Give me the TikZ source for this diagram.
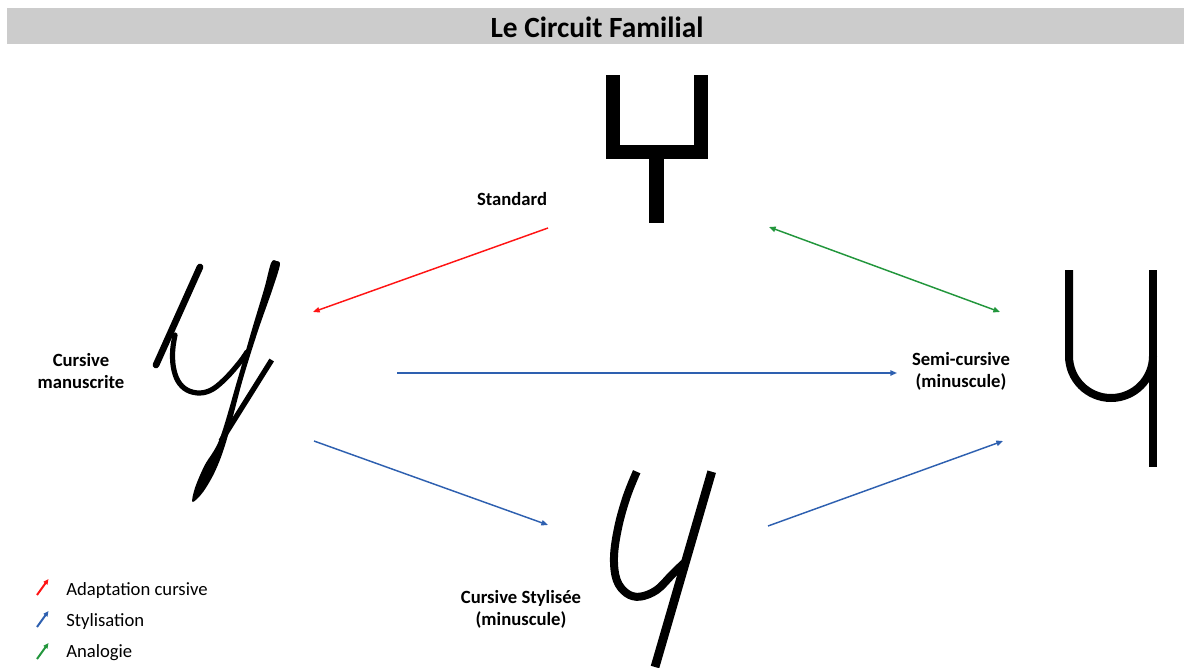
\documentclass[tikz,border=0pt]{standalone}
\usepackage{fontspec}
\setmainfont{Carlito}
\usetikzlibrary{arrows.meta}
\definecolor{arrred}{RGB}{255,20,20}
\definecolor{arrblue}{RGB}{46,96,176}
\definecolor{arrgreen}{RGB}{34,150,60}
\definecolor{titlegray}{RGB}{204,204,204}
\tikzset{
  lbl/.style={font=\bfseries\fontsize{14}{16.5}\selectfont, align=center, inner sep=0pt},
  legtxt/.style={font=\fontsize{14}{16.5}\selectfont, anchor=base west, inner sep=0pt},
  conn/.style={line width=1.1pt, -{Triangle[length=5pt,width=4pt]}},
  bicon/.style={line width=1.1pt, {Triangle[length=5pt,width=4pt]}-{Triangle[length=5pt,width=4pt]}},
  legarrow/.style={line width=1.5pt, -{Triangle[length=4pt,width=3.5pt]}},
  glyph/.style={line width=6pt, line cap=butt},
}
\begin{document}
\begin{tikzpicture}[x=0.75pt,y=-0.75pt]
\useasboundingbox (0,0) rectangle (1184,667);
% title bar
\fill[titlegray] (7,8) rectangle (1184,44);
\node[font=\bfseries\fontsize{22}{26}\selectfont, inner sep=0pt] (title) at (597,27) {Le Circuit Familial};

% ---- Standard glyph
\fill (605.7,75) rectangle (620.3,159);
\fill (694.3,75) rectangle (708.3,159);
\fill (605.7,145) rectangle (708.3,159);
\fill (649.3,159) rectangle (664,223);

% ---- Cursive manuscrite glyph
\draw[line width=5pt, line cap=round] (156,365) -- (200,267);
\draw[line width=3.9pt, line cap=round] plot[smooth, tension=0.6] coordinates
  {(175,335) (172.7,350) (173.3,366.7) (178,381) (187,390) (200,393) (213,389) (227,377) (240,362) (247,352)};
\fill plot[smooth cycle, tension=0.55] coordinates
  {(276.5,261) (279.8,265.3) (271.8,291.2) (257.9,330.9) (242.4,380.7) (226.3,441.1) (215.4,470.6) (203,492.1) (192.5,502)
   (195,487.9) (204.6,465.4) (219.7,438.9) (237.6,379.3) (252.1,329.1) (264.2,288.8) (271.2,262.7)};
\draw[line width=4pt, line cap=butt] (271.7,360) -- (221,441);

% ---- Cursive stylisee glyph
\draw[glyph] plot[smooth, tension=0.6] coordinates
  {(636.7,471.7) (626.7,496.7) (618.3,526.7) (614,556.7) (616.7,580) (626.7,593.3) (640,596.7) (656.7,590) (671.7,575) (684,563)};
\draw[line width=6.6pt, line cap=butt] (711.7,471.7) -- (655,667);

% ---- Semi-cursive glyph
\draw[glyph] (1069,270) -- (1069,356) .. controls (1069,379.2) and (1087.8,398) .. (1111,398)
  .. controls (1134.2,398) and (1153,379.2) .. (1153,356);
\draw[glyph] (1153,270) -- (1153,467);

% ---- labels
\node[lbl] (std) at (512,199) {Standard};
\node[lbl] (cm) at (81,371) {Cursive\\manuscrite};
\node[lbl] (sc) at (961,371) {Semi-cursive\\(minuscule)};
\node[lbl] (cs) at (521,609) {Cursive Stylisée\\(minuscule)};

% ---- connector end points
\coordinate (r1) at (548,228);
\coordinate (r2) at (313,312);
\coordinate (g1) at (769,227);
\coordinate (g2) at (1000,312);
\coordinate (b1s) at (397,373);
\coordinate (b1e) at (897,373);
\coordinate (b2s) at (314,441);
\coordinate (b2e) at (548,525);
\coordinate (b3s) at (768,526);
\coordinate (b3e) at (1003,441);

\draw[conn, arrred] (r1) -- (r2);
\draw[bicon, arrgreen] (g1) -- (g2);
\draw[conn, arrblue] (b1s) -- (b1e);
\draw[conn, arrblue] (b2s) -- (b2e);
\draw[conn, arrblue] (b3s) -- (b3e);

% ---- legend
\coordinate (l1s) at (37,595); \coordinate (l1e) at (48.5,579);
\coordinate (l2s) at (37,627); \coordinate (l2e) at (48.5,611);
\coordinate (l3s) at (37,659); \coordinate (l3e) at (48.5,643);
\draw[legarrow, arrred] (l1s) -- (l1e);
\draw[legarrow, arrblue] (l2s) -- (l2e);
\draw[legarrow, arrgreen] (l3s) -- (l3e);
\node[legtxt] (t1) at (66,595) {Adaptation cursive};
\node[legtxt] (t2) at (66,626) {Stylisation};
\node[legtxt] (t3) at (66,657) {Analogie};
\end{tikzpicture}
\end{document}
